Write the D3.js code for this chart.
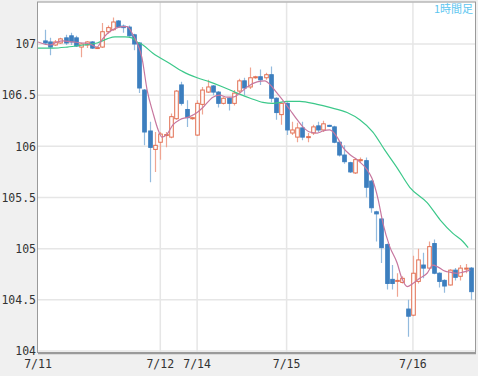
<!DOCTYPE html>
<html>
<head>
<meta charset="utf-8">
<script src="https://cdn.jsdelivr.net/npm/d3@7"></script>
<style>
  body { margin: 0; background: #f0f0f0; }
</style>
</head>
<body>
<div id="chart"></div>
<script>
// hourly candles, index 0..81
const open  = [107.03,107.02,106.99,107.01,107.06,107.08,107.06,106.97,106.99,107.02,106.96,106.97,107.12,107.14,107.225,107.175,107.165,107.09,107.01,106.55,
               106.15,105.97,106.04,106.11,106.09,106.27,106.60,106.36,106.27,106.11,106.41,106.53,106.59,106.53,106.42,106.47,106.42,106.54,106.64,106.58,
               106.67,106.68,106.67,106.70,106.47,106.31,106.42,106.13,106.09,106.18,106.09,106.13,106.20,106.16,106.205,106.19,106.04,105.915,105.84,105.74,
               105.86,105.86,105.66,105.36,105.29,105.04,104.70,104.68,104.67,104.41,104.35,104.68,104.84,104.81,105.05,104.76,104.69,104.645,104.79,104.73,
               104.80,104.81];
const high  = [107.14,107.06,107.04,107.06,107.09,107.11,107.08,107.01,107.03,107.03,106.97,107.205,107.18,107.26,107.235,107.19,107.18,107.10,107.02,106.56,
               106.24,106.14,106.14,106.14,106.32,106.55,106.63,106.45,106.29,106.45,106.58,106.65,106.60,106.54,106.48,106.48,106.55,106.66,106.67,106.77,
               106.69,106.75,106.72,106.78,106.48,106.43,106.43,106.24,106.23,106.24,106.13,106.21,106.24,106.25,106.21,106.20,106.05,106.01,105.85,105.88,
               105.89,105.89,105.67,105.37,105.30,105.05,104.84,104.76,104.73,104.50,104.93,105.00,104.96,105.07,105.09,104.77,104.70,104.80,104.81,104.84,
               104.85,104.82];
const low   = [106.99,106.89,106.98,107.00,106.99,106.99,106.97,106.87,106.96,106.95,106.95,106.96,107.10,107.13,107.16,107.11,107.07,106.94,106.52,106.01,
               105.65,105.75,105.87,105.99,106.08,106.26,106.40,106.19,106.26,106.10,106.31,106.52,106.50,106.38,106.41,106.35,106.40,106.52,106.50,106.56,
               106.66,106.60,106.65,106.43,106.26,106.21,106.11,106.11,106.04,106.06,106.04,106.11,106.14,106.14,106.19,106.03,105.90,105.83,105.74,105.73,
               105.84,105.50,105.35,105.07,104.86,104.60,104.60,104.53,104.66,104.14,104.34,104.66,104.71,104.80,104.75,104.62,104.57,104.64,104.69,104.69,
               104.76,104.50];
const close = [107.01,106.97,107.02,107.05,107.01,107.02,106.98,107.00,107.02,106.96,106.965,107.12,107.16,107.215,107.165,107.16,107.08,107.00,106.57,106.14,
               105.99,106.01,106.12,106.115,106.29,106.54,106.42,106.28,106.28,106.42,106.55,106.58,106.53,106.42,106.47,106.42,106.52,106.64,106.57,106.67,
               106.68,106.65,106.70,106.47,106.33,106.42,106.16,106.16,106.18,106.09,106.095,106.19,106.16,106.22,106.20,106.04,105.915,105.85,105.75,105.87,
               105.87,105.60,105.40,105.34,105.01,104.66,104.66,104.69,104.71,104.34,104.76,104.89,104.81,105.02,104.76,104.68,104.635,104.79,104.72,104.81,
               104.81,104.58];

// moving averages: [candle index, price]
const maShort = [[-1.24,107.02],[1,106.99],[2.4,107.02],[3.5,107.03],[5.4,107.02],[7.3,107.01],[8.6,107.00],[10,106.97],[10.9,107.04],
  [12.1,107.11],[13.4,107.15],[14.7,107.17],[15.7,107.17],[16.6,107.11],[17.6,107.01],[18.5,106.87],[19.5,106.55],[20.6,106.33],
  [21.6,106.16],[22.3,106.09],[23.3,106.12],[24.4,106.21],[25.7,106.26],[27.6,106.29],[29,106.33],[30.1,106.38],[32,106.48],
  [33.3,106.50],[34.7,106.48],[35.8,106.48],[37.1,106.52],[38.5,106.58],[40.4,106.63],[41.9,106.64],[42.9,106.60],[44.2,106.52],
  [45.3,106.45],[46.6,106.36],[48,106.26],[49.1,106.19],[50.4,106.14],[51.8,106.13],[52.9,106.15],[54.2,106.16],[55.6,106.09],
  [56.7,105.99],[58,105.92],[59.4,105.87],[61.3,105.77],[62.2,105.69],[63.4,105.48],[64.3,105.25],[65.6,105.02],[67,104.86],
  [67.9,104.71],[68.9,104.63],[70,104.66],[71.3,104.71],[72.7,104.76],[73.8,104.84],[74.8,104.82],[76.1,104.78],[77.1,104.77],
  [78.4,104.76],[79.5,104.77],[80.9,104.79]];
const maLong = [[-1.24,106.96],[1.6,106.96],[4.3,106.97],[7.3,106.99],[10,107.01],[11.9,107.05],[13.4,107.07],[15.3,107.07],
  [16.6,107.06],[17.6,107.02],[18.7,106.99],[20.6,106.91],[23.8,106.81],[26.3,106.73],[29,106.67],[31.4,106.63],[33.9,106.58],
  [36.6,106.52],[39.1,106.47],[41.5,106.43],[43.4,106.42],[46.1,106.44],[48.5,106.44],[51.8,106.41],[54.2,106.38],[57.5,106.33],
  [59.9,106.26],[62.4,106.14],[64.7,105.96],[67,105.79],[69.4,105.60],[72.7,105.45],[75.2,105.28],[77.6,105.15],[79.5,105.07],
  [80.5,105.01]];

const yTicks = [104, 104.5, 105, 105.5, 106, 106.5, 107];
const dayLabels = ["7/11", "7/12", "7/14", "7/15", "7/16"];
const dayIndex = [-1.24, 22, 29, 46, 70];

const W = 478, H = 376;
const plot = {left: 38, right: 475, top: 2.5, bottom: 353};

const svg = d3.select("#chart").append("svg")
  .attr("width", W).attr("height", H)
  .style("display", "block")
  .style("background", "#f0f0f0");

const x = d3.scaleLinear().domain([0, 81]).range([44.5, 470.8]);
const y = d3.scaleLinear().domain([104, 107]).range([351, 44]);

svg.append("defs").append("clipPath").attr("id", "clip")
  .append("rect")
  .attr("x", plot.left).attr("y", plot.top)
  .attr("width", plot.right - plot.left).attr("height", plot.bottom - plot.top);

svg.append("rect")
  .attr("x", plot.left).attr("y", plot.top)
  .attr("width", plot.right - plot.left).attr("height", plot.bottom - plot.top)
  .attr("fill", "#fff");

// grid
const grid = svg.append("g").attr("stroke", "#e6e6e6").attr("stroke-width", 1.5);
grid.selectAll(".hg").data(yTicks).enter().append("line")
  .attr("x1", plot.left).attr("x2", plot.right)
  .attr("y1", d => y(d)).attr("y2", d => y(d));
grid.selectAll(".vg").data(dayIndex.slice(1)).enter().append("line")
  .attr("x1", d => x(d)).attr("x2", d => x(d))
  .attr("y1", plot.top).attr("y2", plot.bottom);

const g = svg.append("g").attr("clip-path", "url(#clip)");

const candles = d3.range(open.length).map(i => ({
  i, o: open[i], h: high[i], l: low[i], c: close[i], up: close[i] >= open[i]
}));

// wicks
g.selectAll(".wick").data(candles).enter().append("line")
  .attr("x1", d => Math.round(x(d.i)) + 0.5).attr("x2", d => Math.round(x(d.i)) + 0.5)
  .attr("y1", d => y(d.h)).attr("y2", d => y(d.l))
  .attr("stroke", d => d.up ? "#efa592" : "#93bbde")
  .attr("stroke-width", 1.2);

// bodies
const bw = 3.6;
g.selectAll(".body").data(candles).enter().append("rect")
  .attr("x", d => Math.round(x(d.i)) + 0.5 - bw / 2)
  .attr("y", d => y(Math.max(d.o, d.c)))
  .attr("width", bw)
  .attr("height", d => Math.max(1, Math.abs(y(d.o) - y(d.c))))
  .attr("fill", d => d.up ? "#fff" : "#3d7fbf")
  .attr("stroke", d => d.up ? "#e26f52" : "#3d7fbf")
  .attr("stroke-width", 1);

const line = d3.line().x(d => x(d[0])).y(d => y(d[1])).curve(d3.curveMonotoneX);

g.append("path").datum(maLong)
  .attr("d", line).attr("fill", "none")
  .attr("stroke", "#3cc88a").attr("stroke-width", 1.2);

g.append("path").datum(maShort)
  .attr("d", line).attr("fill", "none")
  .attr("stroke", "#c7779f").attr("stroke-width", 1.2);

// frame
svg.append("rect")
  .attr("x", plot.left - 0.5).attr("y", plot.top - 0.5)
  .attr("width", plot.right - plot.left + 1).attr("height", plot.bottom - plot.top)
  .attr("fill", "none").attr("stroke", "#9a9a9a").attr("stroke-width", 1);
svg.append("line")
  .attr("x1", plot.left).attr("x2", plot.right + 1)
  .attr("y1", plot.bottom + 0.5).attr("y2", plot.bottom + 0.5)
  .attr("stroke", "#9a9a9a").attr("stroke-width", 1.5);

// axes labels
const yAxis = svg.append("g")
  .attr("transform", `translate(${plot.left - 2},0)`)
  .call(d3.axisLeft(y).tickValues(yTicks).tickSize(0).tickPadding(0).tickFormat(d => String(d)));
yAxis.select(".domain").remove();
yAxis.selectAll("text")
  .attr("font-family", "DejaVu Sans Mono, monospace")
  .attr("font-size", "11.5px")
  .attr("fill", "#333");

svg.selectAll(".xlab").data(dayLabels).enter().append("text")
  .attr("x", (d, i) => i === 0 ? 38 : x(dayIndex[i]))
  .attr("y", 368)
  .attr("text-anchor", "middle")
  .attr("font-family", "DejaVu Sans Mono, monospace")
  .attr("font-size", "11.5px")
  .attr("fill", "#333")
  .text(d => d);

svg.append("text")
  .attr("x", 473).attr("y", 12.5)
  .attr("text-anchor", "end")
  .attr("font-family", "Noto Sans CJK JP, sans-serif")
  .attr("font-size", "11px")
  .attr("fill", "#5cc6f0")
  .text("1時間足");
</script>
</body>
</html>
